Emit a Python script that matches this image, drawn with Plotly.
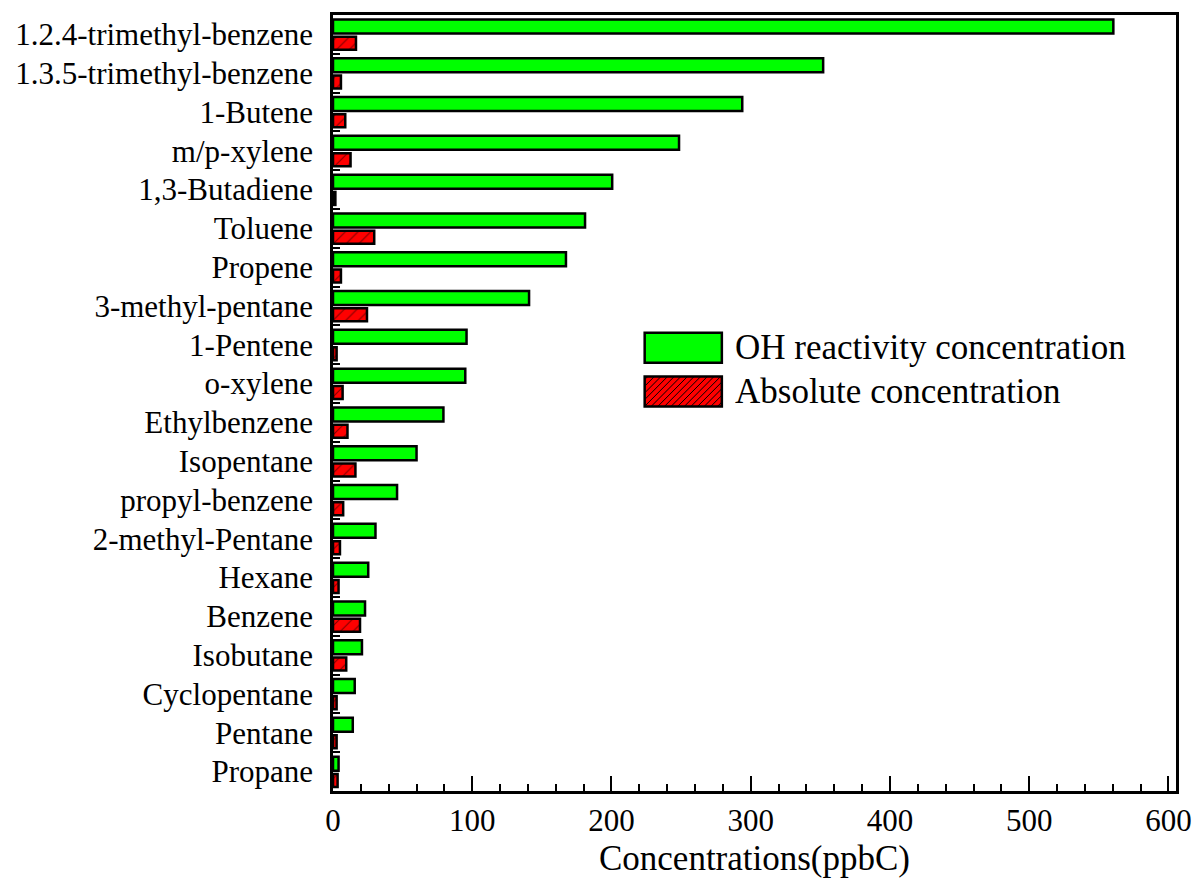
import plotly.graph_objects as go

categories = [
    "1.2.4-trimethyl-benzene", "1.3.5-trimethyl-benzene", "1-Butene", "m/p-xylene",
    "1,3-Butadiene", "Toluene", "Propene", "3-methyl-pentane", "1-Pentene", "o-xylene",
    "Ethylbenzene", "Isopentane", "propyl-benzene", "2-methyl-Pentane", "Hexane",
    "Benzene", "Isobutane", "Cyclopentane", "Pentane", "Propane",
]
oh_reactivity = [560.4, 352.0, 293.9, 248.5, 200.5, 181.0, 167.3, 140.8, 95.9, 95.0,
                 79.3, 60.0, 46.0, 30.5, 25.3, 23.0, 20.8, 15.6, 14.2, 4.0]
absolute = [16.5, 5.7, 8.8, 12.6, 1.7, 29.6, 5.7, 24.4, 2.6, 6.9,
            10.4, 16.1, 7.3, 5.0, 4.0, 19.4, 9.5, 2.6, 2.6, 3.3]

x_ticks = [0, 100, 200, 300, 400, 500, 600]
name_oh = "OH reactivity concentration"
name_abs = "Absolute concentration"

FONT = "Liberation Serif, Times New Roman, serif"
W, H = 1204, 893
ML, MR, MT, MB = 333, 19, 12, 102
PW, PH = W - ML - MR, H - MT - MB

fig = go.Figure()
fig.add_trace(go.Bar(
    orientation="h", y=categories, x=oh_reactivity, name=name_oh,
    width=0.36, offset=-0.385,
    marker=dict(color="#00ff00", line=dict(color="black", width=2.5)),
    showlegend=False,
))
fig.add_trace(go.Bar(
    orientation="h", y=categories, x=absolute, name=name_abs,
    width=0.335, offset=0.06,
    marker=dict(color="#ff0000", line=dict(color="black", width=2.5),
                pattern=dict(shape="/", fgcolor="black", bgcolor="#ff0000",
                             size=9, solidity=0.12)),
    showlegend=False,
))


def px2paper(x, y):
    return (x - ML) / PW, (MT + PH - y) / PH


# manual legend (large swatches)
shapes = []
gx0, gy0 = px2paper(648, 361)
gx1, gy1 = px2paper(726, 331)
shapes.append(dict(type="rect", xref="paper", yref="paper", x0=gx0, y0=gy0, x1=gx1, y1=gy1,
                   fillcolor="#00ff00", line=dict(color="black", width=2.5)))
rx0p, ry0p, rx1p, ry1p = 648, 375, 726, 405
a, b = px2paper(rx0p, ry1p)
c, d = px2paper(rx1p, ry0p)
shapes.append(dict(type="rect", xref="paper", yref="paper", x0=a, y0=b, x1=c, y1=d,
                   fillcolor="#ff0000", line=dict(width=0)))
path = ""
cc = rx0p + ry0p + 3
while cc < rx1p + ry1p:
    xs = max(rx0p, cc - ry1p)
    xe = min(rx1p, cc - ry0p)
    if xe > xs:
        p1 = px2paper(xs, cc - xs)
        p2 = px2paper(xe, cc - xe)
        path += f"M{p1[0]:.5f},{p1[1]:.5f}L{p2[0]:.5f},{p2[1]:.5f}"
    cc += 6.7
shapes.append(dict(type="path", xref="paper", yref="paper", path=path,
                   line=dict(color="black", width=1)))
shapes.append(dict(type="rect", xref="paper", yref="paper", x0=a, y0=b, x1=c, y1=d,
                   fillcolor="rgba(0,0,0,0)", line=dict(color="black", width=2.5)))

tx, ty1 = px2paper(737, 346)
_, ty2 = px2paper(737, 390)
annotations = [
    dict(xref="paper", yref="paper", x=tx, y=ty1, xanchor="left", yanchor="middle",
         text=name_oh, showarrow=False, font=dict(family=FONT, size=35, color="black")),
    dict(xref="paper", yref="paper", x=tx, y=ty2, xanchor="left", yanchor="middle",
         text=name_abs, showarrow=False, font=dict(family=FONT, size=35, color="black")),
]

fig.update_layout(
    width=W, height=H,
    margin=dict(l=ML, r=MR, t=MT, b=MB, pad=0),
    paper_bgcolor="white", plot_bgcolor="white",
    barmode="group",
    font=dict(family=FONT, color="black"),
    shapes=shapes, annotations=annotations,
    xaxis=dict(
        range=[0, 605.4], tickvals=x_ticks, ticktext=[str(v) for v in x_ticks],
        ticks="inside", ticklen=15, tickwidth=2, tickcolor="black",
        minor=dict(dtick=20, tick0=0, ticks="inside", ticklen=7, tickwidth=2, tickcolor="black"),
        showline=True, linewidth=2.5, linecolor="black", mirror=True,
        showgrid=False, zeroline=False,
        tickfont=dict(family=FONT, size=31, color="black"),
        ticklabelstandoff=0,
        title=dict(text="Concentrations(ppbC)", font=dict(family=FONT, size=35, color="black"),
                   standoff=9),
    ),
    xaxis2=dict(
        overlaying="x", side="top", anchor="y", range=[0, PW / 85.5], dtick=1, tick0=0,
        ticks="inside", ticklen=4, tickwidth=2, tickcolor="black",
        showticklabels=False, showline=False, showgrid=False, zeroline=False,
    ),
    yaxis=dict(
        categoryorder="array", categoryarray=categories, autorange="reversed",
        ticks="inside", tickson="boundaries", ticklen=7, tickwidth=2, tickcolor="black",
        showline=True, linewidth=2.5, linecolor="black", mirror=True,
        showgrid=False, zeroline=False,
        tickfont=dict(family=FONT, size=31, color="black"),
        ticklabelstandoff=11,
    ),
)

fig.write_html("out.html", config={"displayModeBar": False},
               post_script="document.body.style.margin='0';")
